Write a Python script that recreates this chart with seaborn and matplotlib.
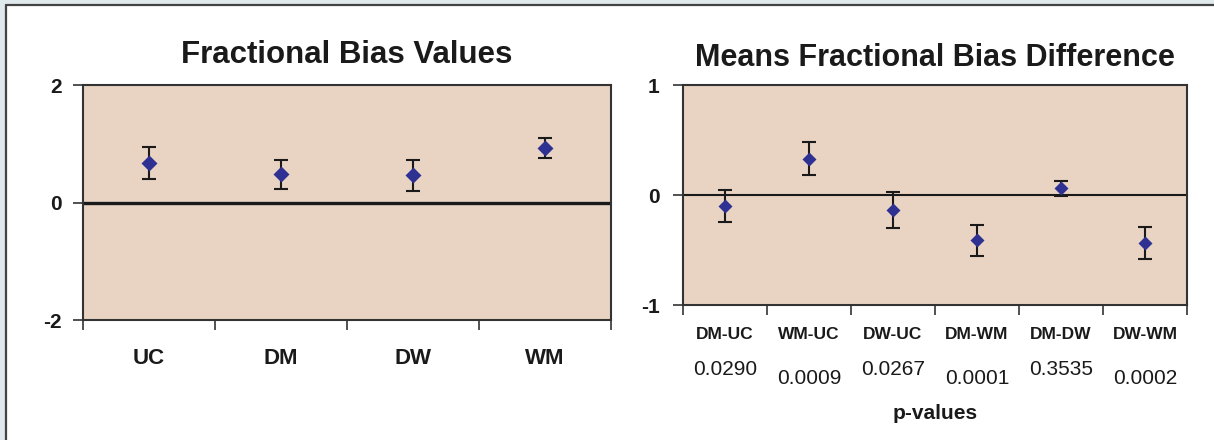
import matplotlib
matplotlib.use("Agg")
import matplotlib.pyplot as plt
import matplotlib.transforms as mtransforms
from matplotlib.lines import Line2D
from matplotlib.patches import Rectangle
import numpy as np
import seaborn as sns

# left panel: fractional bias per group
groups = ["UC", "DM", "DW", "WM"]
bias_values = [0.67, 0.48, 0.46, 0.92]
bias_errors = [0.27, 0.25, 0.27, 0.17]

# right panel: pairwise differences of the means
pairs = ["DM-UC", "WM-UC", "DW-UC", "DM-WM", "DM-DW", "DW-WM"]
diff_values = [-0.10, 0.33, -0.135, -0.41, 0.06, -0.44]
diff_errors = [0.145, 0.15, 0.165, 0.14, 0.07, 0.145]
p_values = ["0.0290", "0.0009", "0.0267", "0.0001", "0.3535", "0.0002"]

sns.set_style("ticks")
plt.rcParams["font.family"] = ["Liberation Sans", "DejaVu Sans"]
plt.rcParams["axes.unicode_minus"] = False

FACE = "#e9d4c3"
MARKER = "#2e3192"
INK = "#1a1a1a"

fig = plt.figure(figsize=(12.14, 4.4), dpi=100)
fig.patch.set_facecolor("#e0e9eb")
fig.add_artist(Rectangle((6 / 1214, 0), 1, 1 - 5 / 440, transform=fig.transFigure,
                         facecolor="white", edgecolor="none", zorder=0))
fig.add_artist(Line2D([6 / 1214, 6 / 1214], [0, 1 - 5 / 440], transform=fig.transFigure,
                      color="#444444", lw=1.6))
fig.add_artist(Line2D([6 / 1214, 1], [1 - 5 / 440, 1 - 5 / 440], transform=fig.transFigure,
                      color="#444444", lw=1.6))

ax1 = fig.add_axes([83 / 1214, 1 - 320 / 440, 528 / 1214, 235 / 440])
ax2 = fig.add_axes([683 / 1214, 1 - 305 / 440, 504 / 1214, 220 / 440])


def draw_panel(ax, cats, vals, errs, ylim, zero_lw, msize):
    ax.set_facecolor(FACE)
    ax.axhline(0, color=INK, lw=zero_lw, zorder=1)
    ax.errorbar(np.arange(len(cats)), vals, yerr=errs, fmt="none", ecolor=INK,
                elinewidth=1.5, capsize=5, capthick=1.5, zorder=2)
    sns.pointplot(x=cats, y=vals, ax=ax, linestyle="none", marker="D",
                  color=MARKER, markersize=msize, errorbar=None, zorder=3)
    n = len(cats)
    ax.set_xlim(-0.5, n - 0.5)
    ax.set_ylim(*ylim)
    ax.set_xticks(np.arange(n + 1) - 0.5, [""] * (n + 1))
    ax.set_xticks(np.arange(n), cats, minor=True)
    ax.tick_params(axis="x", which="major", direction="out", length=7, width=1.2, color="#333333")
    ax.tick_params(axis="x", which="minor", length=0)
    ax.tick_params(axis="y", direction="out", length=7, width=1.2, color="#333333")
    for s in ax.spines.values():
        s.set_color("#333333")
        s.set_linewidth(1.5)
    ax.set_xlabel("")
    ax.set_ylabel("")


draw_panel(ax1, groups, bias_values, bias_errors, (-2, 2), 2.4, 6)
ax1.set_yticks([-2, 0, 2])
ax1.tick_params(axis="y", labelsize=15, pad=8, labelcolor=INK)
ax1.tick_params(axis="x", which="minor", labelsize=16, pad=20, labelcolor=INK)
for t in ax1.get_yticklabels() + ax1.get_xticklabels(minor=True):
    t.set_fontweight("bold")
ax1.set_title("Fractional Bias Values", fontsize=22.5, fontweight="bold", pad=16, color=INK)

draw_panel(ax2, pairs, diff_values, diff_errors, (-1, 1), 1.5, 5)
ax2.set_yticks([-1, 0, 1])
ax2.tick_params(axis="y", labelsize=15, pad=10, labelcolor=INK)
ax2.tick_params(axis="x", which="minor", labelsize=12.5, pad=16, labelcolor=INK)
for t in ax2.get_yticklabels() + ax2.get_xticklabels(minor=True):
    t.set_fontweight("bold")
ax2.set_title("Means Fractional Bias Difference", fontsize=22, fontweight="bold", pad=14, color=INK)

trans = mtransforms.blended_transform_factory(ax2.transData, ax2.transAxes)
for i, p in enumerate(p_values):
    y_px = 369 if i % 2 == 0 else 378
    ax2.text(i, (305 - y_px) / 220, p, transform=trans, ha="center", va="center",
             fontsize=15, color=INK)
ax2.text(0.5, (305 - 413) / 220, "p-values", transform=ax2.transAxes, ha="center",
         va="center", fontsize=15, fontweight="bold", color=INK)

fig.savefig("out.png", dpi=100, facecolor=fig.get_facecolor())
